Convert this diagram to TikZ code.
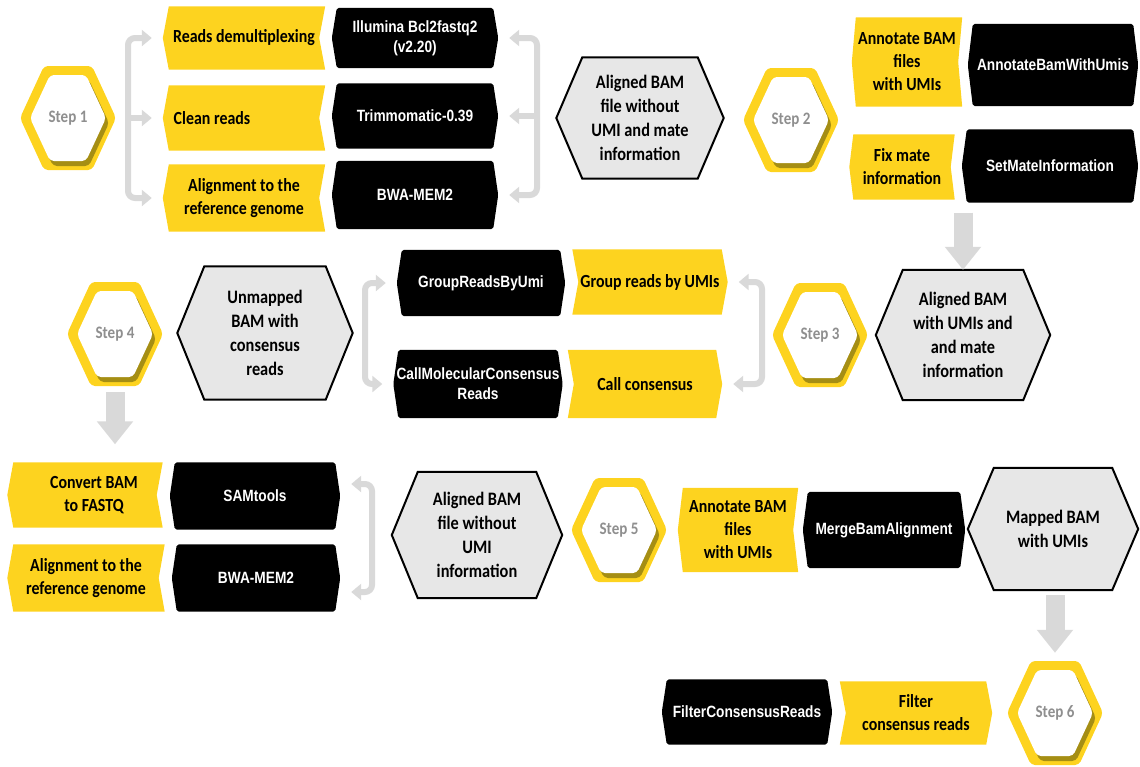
\documentclass[tikz,border=0pt]{standalone}
\usepackage{fontspec}
\setmainfont{Carlito}[FakeStretch=0.86]
\newfontfamily\narrowfont{Liberation Sans}[FakeStretch=0.84]
\usetikzlibrary{calc,backgrounds,arrows.meta}
\definecolor{yel}{HTML}{FDD31F}
\definecolor{stepshadow}{HTML}{A58E14}
\definecolor{arrgray}{HTML}{D9D9D9}
\definecolor{hexfill}{HTML}{E7E7E7}
\definecolor{stepgray}{HTML}{8F8F8F}
\newcommand{\hexshape}[3]{\path[#3] (#1.west) -- ([xshift=#2]#1.north west) -- ([xshift=-#2]#1.north east) -- (#1.east) -- ([xshift=-#2]#1.south east) -- ([xshift=#2]#1.south west) -- cycle;}
\newcommand{\lchev}[3]{\path[#3] (#1.west) -- ([xshift=#2]#1.north west) -- (#1.north east) -- ([xshift=-#2]#1.east) -- (#1.south east) -- ([xshift=#2]#1.south west) -- cycle;}
\newcommand{\rchev}[3]{\path[#3] (#1.north west) -- ([xshift=-#2]#1.north east) -- (#1.east) -- ([xshift=-#2]#1.south east) -- (#1.south west) -- ([xshift=#2]#1.west) -- cycle;}
\newcommand{\innerhex}[4]{\path[#4] ($(#1)+(-38+#2,#3)$) -- ($(#1)+(-18+#2,-43+#3)$) -- ($(#1)+(18+#2,-43+#3)$) -- ($(#1)+(38+#2,#3)$) -- ($(#1)+(18+#2,43+#3)$) -- ($(#1)+(-18+#2,43+#3)$) -- cycle;}
\newcommand{\stephex}[1]{%
  \path[fill=yel, rounded corners=4pt] ($(#1)+(-48,0)$) -- ($(#1)+(-24,-52)$) -- ($(#1)+(24,-52)$) -- ($(#1)+(48,0)$) -- ($(#1)+(24,52)$) -- ($(#1)+(-24,52)$) -- cycle;
  \innerhex{#1}{3}{5}{fill=stepshadow, rounded corners=4pt}
  \innerhex{#1}{0}{0}{fill=white, rounded corners=4pt}}
\tikzset{
  >={Triangle[width=16pt,length=10pt]},
  base/.style={rectangle, inner sep=2pt, align=center},
  ytxt/.style={base, text=black, font=\bfseries\fontsize{18.5pt}{23pt}\selectfont},
  btxt/.style={base, text=white, font=\narrowfont\bfseries\fontsize{16.3pt}{20pt}\selectfont},
  gtxt/.style={base, text=black, font=\bfseries\fontsize{19pt}{24pt}\selectfont},
  stxt/.style={base, text=stepgray, minimum width=96pt, minimum height=104pt, font=\bfseries\fontsize{17.5pt}{20pt}\selectfont},
  sz/.style 2 args={minimum width=#1pt, minimum height=#2pt},
  gconn/.style={draw=arrgray, line width=6pt, rounded corners=7pt, shorten >=11pt, shorten <=11pt},
  blockarr/.style={draw=arrgray, line width=19pt, -{Triangle[width=35pt,length=23pt]}},
  yshape/.style={fill=yel},
  bshape/.style={fill=black, rounded corners=2pt},
  gshape/.style={fill=hexfill, draw=black, line width=2pt},
}
\begin{document}
\begin{tikzpicture}[x=1pt,y=-1pt]
\useasboundingbox (0,0) rectangle (1140,766);
% Row 1
\node[stxt] (s1) at (68,118) {Step 1};
\node[ytxt, sz={162}{63}] (y1a) at (244,38) {Reads demultiplexing};
\node[ytxt, sz={162}{65}] (y1b) at (244,118) {Clean reads\hspace*{64pt}};
\node[ytxt, sz={162}{67}] (y1c) at (244,198) {Alignment to the\\reference genome};
\node[btxt, sz={166}{60}] (b1a) at (415,38) {Illumina Bcl2fastq2\\(v2.20)};
\node[btxt, sz={166}{65}] (b1b) at (415,116) {Trimmomatic-0.39};
\node[btxt, sz={166}{68}] (b1c) at (415,195) {BWA-MEM2};
\node[gtxt, sz={167}{121}] (g1) at (640,118) {Aligned BAM\\file without\\UMI and mate\\information};
\node[stxt] (s2) at (791,120) {Step 2};
\node[ytxt, sz={110}{89}] (y2a) at (907,62) {Annotate BAM\\files\\with UMIs};
\node[btxt, sz={170}{82}] (b2a) at (1053,65) {AnnotateBamWithUmis};
\node[ytxt, sz={105}{65}] (y2b) at (902,167) {Fix mate\\information};
\node[btxt, sz={176}{73}] (b2b) at (1050,166) {SetMateInformation};
% Row 2
\node[stxt] (s4) at (115,334) {Step 4};
\node[gtxt, sz={175}{133}] (g2) at (265,333) {Unmapped\\BAM with\\consensus\\reads};
\node[btxt, sz={168}{66}] (b3a) at (481,283) {GroupReadsByUmi};
\node[btxt, sz={169}{68}] (b3b) at (478,384) {CallMolecularConsensus\\Reads};
\node[ytxt, sz={155}{65}] (y3a) at (650,282) {Group reads by UMIs};
\node[ytxt, sz={154}{68}] (y3b) at (645,384) {Call consensus};
\node[stxt] (s3) at (820,335) {Step 3};
\node[gtxt, sz={174}{130}] (g3) at (963,335) {Aligned BAM\\with UMIs and\\and mate\\information};
% Row 3
\node[ytxt, sz={155}{65}] (y4a) at (85,495) {\hspace*{18pt}Convert BAM\\\hspace*{18pt}to FASTQ};
\node[btxt, sz={170}{67}] (b4a) at (255,496) {SAMtools};
\node[ytxt, sz={157}{67}] (y4b) at (86,578) {Alignment to the\\reference genome};
\node[btxt, sz={168}{67}] (b4b) at (256,578) {BWA-MEM2};
\node[gtxt, sz={170}{126}] (g4) at (477,535) {Aligned BAM\\file without\\UMI\\information};
\node[stxt] (s5) at (619,530) {Step 5};
\node[ytxt, sz={120}{84}] (y5) at (738,530) {Annotate BAM\\files\\with UMIs};
\node[btxt, sz={162}{76}] (b5) at (884,530) {MergeBamAlignment};
\node[gtxt, sz={170}{122}] (g5) at (1053,529) {Mapped BAM\\with UMIs};
% Row 4
\node[btxt, sz={170}{65}] (b6) at (747,712) {FilterConsensusReads};
\node[ytxt, sz={152}{63}] (y6) at (916,713) {Filter\\consensus reads};
\node[stxt] (s6) at (1055,713) {Step 6};
% bracket spines
\coordinate (k1) at (128,118);
\coordinate (k2) at (537,118);
\coordinate (k3) at (365,333);
\coordinate (k4) at (762,333);
\coordinate (k5) at (372,538);
\begin{scope}[on background layer]
  \stephex{s1}\stephex{s2}\stephex{s3}\stephex{s4}\stephex{s5}\stephex{s6}
  \lchev{y1a}{6pt}{yshape}\lchev{y1b}{6pt}{yshape}\lchev{y1c}{6pt}{yshape}
  \lchev{y2a}{4pt}{yshape}\lchev{y2b}{4pt}{yshape}
  \rchev{y3a}{6pt}{yshape}\rchev{y3b}{6pt}{yshape}
  \lchev{y4a}{6pt}{yshape}\lchev{y4b}{6pt}{yshape}
  \lchev{y5}{5pt}{yshape}
  \rchev{y6}{6pt}{yshape}
  \hexshape{b1a}{5pt}{bshape}\hexshape{b1b}{5pt}{bshape}\hexshape{b1c}{5pt}{bshape}
  \hexshape{b2a}{5pt}{bshape}\hexshape{b2b}{5pt}{bshape}
  \hexshape{b3a}{5pt}{bshape}\hexshape{b3b}{5pt}{bshape}
  \hexshape{b4a}{5pt}{bshape}\hexshape{b4b}{5pt}{bshape}
  \hexshape{b5}{5pt}{bshape}\hexshape{b6}{5pt}{bshape}
  \hexshape{g1}{26pt}{gshape}\hexshape{g2}{27pt}{gshape}\hexshape{g3}{27pt}{gshape}
  \hexshape{g4}{26pt}{gshape}\hexshape{g5}{26pt}{gshape}
\end{scope}
% brackets
\draw[gconn, <->] (y1c.west) -| (k1) |- (y1a.west);
\draw[gconn, ->, shorten <=0pt] (k1 |- y1b.west) -- (y1b.west);
\draw[gconn, <->] (b1c.east) -| (k2) |- (b1a.east);
\draw[gconn, ->, shorten <=0pt] (k2 |- b1b.east) -- (b1b.east);
\draw[gconn, <->] (b3b.west) -| (k3) |- (b3a.west);
\draw[gconn, <->] (y3b.east) -| (k4) |- (y3a.east);
\draw[gconn, <->] ([yshift=-14pt]b4b.east) -| (k5) |- ([yshift=12pt]b4a.east);
% block arrows
\draw[blockarr] ($(g3.north |- b2b.south)+(0,10)$) -- (g3.north);
\draw[blockarr] ($(s4.south)+(0,6)$) -- ($(s4.south |- y4a.north)+(0,-18)$);
\draw[blockarr] ($(s6.north |- g5.south)+(0,5)$) -- ($(s6.north)+(0,-8)$);
\end{tikzpicture}
\end{document}
